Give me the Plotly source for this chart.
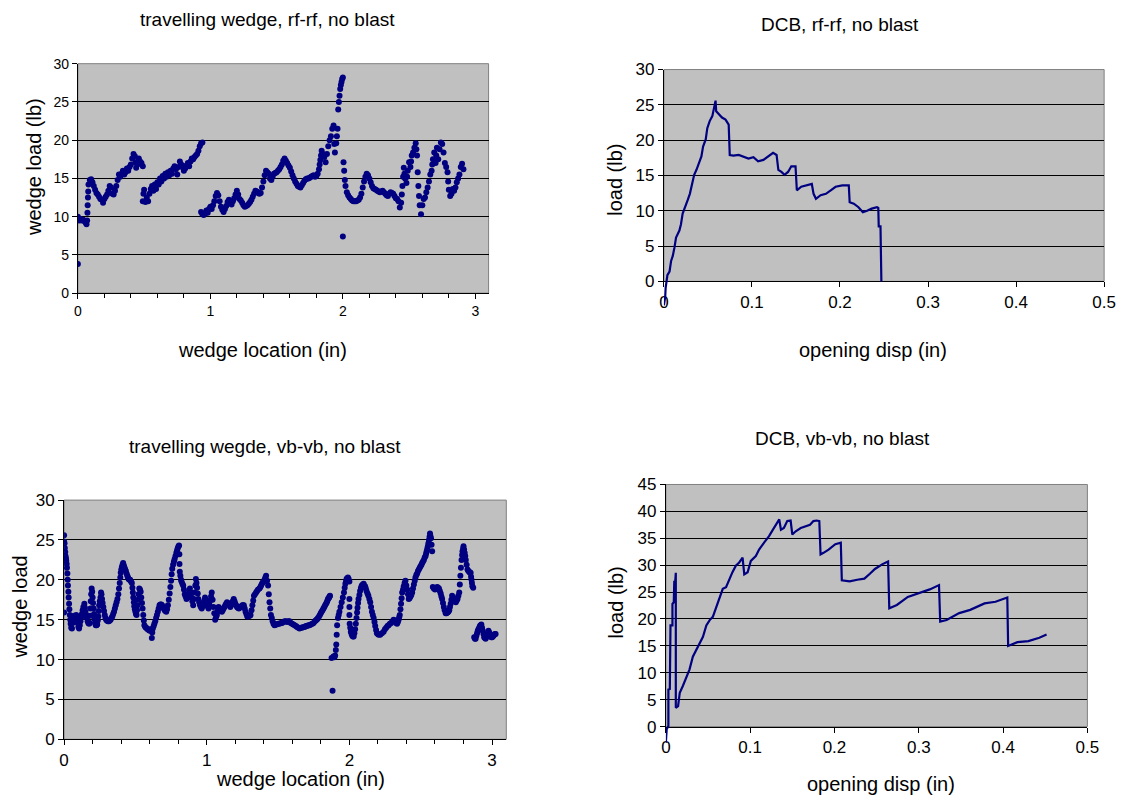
import plotly.graph_objects as go

# ---------------- data ----------------
# travelling wedge, rf-rf : (wedge location in, wedge load lb)
rf_wedge_seg_a = [(0.00,3.8),(0.00,10.0),(0.00,9.6),(0.01,9.5),(0.02,9.7),(0.03,9.5),(0.04,9.6),(0.05,9.4),(0.06,9.2),(0.065,9.0),
    (0.07,9.5),(0.072,10.5),(0.074,11.5),(0.076,12.5),(0.078,13.3),(0.08,14.2),(0.09,14.8),(0.10,14.9),(0.11,14.5),(0.12,14.0),
    (0.13,13.5),(0.14,13.1),(0.15,12.9),(0.16,12.6),(0.17,12.3),(0.18,12.2),(0.19,11.8),(0.20,12.3),(0.21,12.6),(0.22,12.9),
    (0.23,13.4),(0.24,14.0),(0.25,13.8),(0.26,13.0),(0.27,12.9),(0.28,13.4),(0.29,14.0),(0.30,14.8),(0.31,15.5),(0.32,15.2),
    (0.33,15.6),(0.34,16.0),(0.35,15.5),(0.36,15.8),(0.37,16.3),(0.38,16.0),(0.39,16.5),(0.40,16.8),(0.41,17.6),(0.42,18.2),
    (0.43,17.9),(0.435,17.1),(0.44,16.4),(0.45,16.8),(0.455,17.2),(0.46,17.6),(0.47,17.2),(0.48,17.0),(0.49,16.6)]
rf_wedge_seg_b = [(0.49,12.0),(0.495,13.0),(0.50,13.5),(0.51,11.9),(0.52,12.5),(0.53,12.0),(0.54,13.0),(0.55,13.6),(0.56,14.0),
    (0.57,13.4),(0.58,14.2),(0.59,13.6),(0.60,14.5),(0.61,14.2),(0.62,15.0),(0.63,14.6),(0.64,15.3),(0.65,15.0),(0.66,15.6),
    (0.67,15.2),(0.68,15.8),(0.69,15.4),(0.70,16.0),(0.71,15.6),(0.72,16.3),(0.73,16.6),(0.74,16.2),(0.75,15.5),(0.76,16.5),
    (0.77,17.2),(0.78,16.8),(0.79,16.5),(0.80,16.0),(0.81,16.3),(0.82,16.7),(0.83,17.0),(0.84,16.6),(0.85,17.2),(0.86,17.6),
    (0.87,17.5),(0.88,17.8),(0.89,18.0),(0.90,18.2),(0.91,18.6),(0.92,19.2),(0.93,19.6),(0.94,19.7)]
rf_wedge_seg_c = [(0.93,10.6),(0.94,10.3),(0.95,10.2),(0.96,10.4),(0.97,10.8),(0.98,10.5),(0.99,11.0),(1.00,11.3),(1.01,11.0),
    (1.02,11.5),(1.03,12.0),(1.04,12.7),(1.05,13.1),(1.06,12.8),(1.07,12.0),(1.08,11.3),(1.09,10.9),(1.10,10.6),(1.11,11.0),
    (1.12,11.4),(1.13,11.9),(1.14,12.2),(1.15,11.8),(1.16,11.6),(1.17,12.0),(1.18,12.4),(1.19,12.9),(1.20,13.4),(1.21,12.9),
    (1.22,12.3),(1.23,12.1),(1.24,11.8),(1.25,11.5),(1.26,11.3),(1.27,11.4),(1.28,11.5),(1.29,11.7),(1.30,11.9),(1.31,12.2),
    (1.32,12.6),(1.33,13.0),(1.34,13.4),(1.35,13.3),(1.36,13.2),(1.37,13.0),(1.38,13.1),(1.39,13.8),(1.40,14.6),(1.41,15.4),
    (1.42,16.0),(1.43,15.8),(1.44,15.6),(1.45,15.0),(1.46,14.8),(1.47,15.2),(1.48,15.6),(1.49,15.7),(1.50,15.8),(1.51,16.0),
    (1.52,16.2),(1.53,16.5),(1.54,16.8),(1.55,17.3),(1.56,17.6),(1.57,17.3),(1.58,17.0),(1.59,16.7),(1.60,16.4),(1.61,15.9),
    (1.62,15.4),(1.63,15.0),(1.64,14.6),(1.65,14.3),(1.66,14.0),(1.67,13.9),(1.68,13.8),(1.69,14.1),(1.70,14.4),(1.71,14.7),
    (1.72,14.9),(1.73,15.0),(1.74,15.0),(1.75,15.1),(1.76,15.2),(1.77,15.3),(1.78,15.4),(1.79,15.2),(1.80,15.3),(1.81,15.6),
    (1.82,16.2),(1.825,16.8),(1.83,17.4),(1.835,18.0),(1.84,18.6),(1.85,18.2),(1.86,17.8),(1.87,17.1),(1.88,18.2),(1.89,19.2),
    (1.90,20.0),(1.91,20.5),(1.92,21.5),(1.93,21.9),(1.935,19.5),(1.94,18.4),(1.95,19.6),(1.955,20.5),(1.96,21.5),(1.965,24.0),
    (1.97,25.0),(1.975,25.8),(1.98,26.7),(1.985,27.2),(1.99,27.6),(1.995,28.0),(2.00,28.2),(2.00,7.4)]
rf_wedge_seg_d = [(2.005,17.1),(2.01,16.0),(2.015,14.8),(2.02,14.0),(2.03,13.2),(2.04,12.8),(2.05,12.5),(2.06,12.3),(2.07,12.1),
    (2.08,12.0),(2.09,12.0),(2.10,12.0),(2.11,12.1),(2.12,12.2),(2.13,12.5),(2.14,13.0),(2.15,13.8),(2.16,14.6),(2.17,15.2),
    (2.18,15.6),(2.19,15.4),(2.20,15.0),(2.21,14.5),(2.22,14.0),(2.23,13.7),(2.24,13.6),(2.25,13.5),(2.26,13.4),(2.27,13.3),
    (2.28,13.2),(2.29,13.3),(2.30,13.4),(2.31,13.2),(2.32,13.0),(2.33,12.8),(2.34,12.7),(2.35,13.0),(2.36,13.2),(2.37,13.1),
    (2.38,13.0),(2.39,12.7),(2.40,12.4),(2.41,12.3),(2.42,12.0),(2.43,11.2),(2.44,11.8),(2.445,12.9),(2.45,14.0),(2.455,15.2),
    (2.46,16.4),(2.465,15.6),(2.47,15.0),(2.48,14.4),(2.485,15.2),(2.49,16.0),(2.50,17.1),(2.51,16.5),(2.515,17.2),(2.52,18.0),
    (2.53,18.4),(2.54,19.0),(2.55,19.6),(2.555,18.8),(2.56,18.0),(2.565,15.8),(2.57,14.0),(2.575,12.7),(2.58,11.5),(2.59,10.3),
    (2.60,11.5),(2.61,12.3),(2.62,12.5),(2.63,13.2),(2.64,13.8),(2.65,14.6),(2.66,15.5),(2.67,16.0),(2.675,16.8),(2.68,17.5),
    (2.69,18.4),(2.70,17.0),(2.705,18.0),(2.71,19.0),(2.72,17.5),(2.73,18.8),(2.74,19.7),(2.75,19.5),(2.76,18.4),(2.77,17.0),
    (2.78,16.5),(2.79,15.8),(2.795,14.6),(2.80,13.5),(2.81,12.7),(2.82,13.0),(2.83,13.6),(2.84,13.4),(2.85,13.8),(2.86,14.5),
    (2.87,15.0),(2.88,15.5),(2.89,16.5),(2.90,16.9),(2.91,16.2)]

# DCB, rf-rf : (opening disp in, load lb)
rf_dcb = [(0.0,-3.4),(0.0015,-2.2),(0.002,-0.9),(0.0026,0.0),(0.004,0.9),(0.0045,1.0),(0.006,1.4),(0.0064,1.4),(0.0082,2.9),
    (0.0101,3.6),(0.012,4.8),(0.0138,6.2),(0.0176,7.2),(0.0194,8.1),(0.0213,9.6),(0.0243,10.5),(0.027,11.5),(0.0295,12.4),
    (0.0318,13.9),(0.0344,15.1),(0.037,15.8),(0.04,16.7),(0.0426,17.7),(0.0445,19.1),(0.0475,20.1),(0.0493,21.7),(0.052,22.7),
    (0.055,23.4),(0.0568,24.4),(0.0587,25.6),(0.0594,24.1),(0.0624,23.7),(0.066,23.2),(0.07,22.9),(0.0736,22.2),(0.0748,17.9),
    (0.079,17.8),(0.085,17.9),(0.0905,17.7),(0.096,17.4),(0.1017,17.6),(0.107,17.0),(0.113,17.2),(0.1185,17.7),(0.124,18.2),
    (0.128,17.9),(0.13,15.8),(0.1335,15.5),(0.137,15.1),(0.141,15.5),(0.1447,16.3),(0.1495,16.3),(0.151,12.9),(0.156,13.4),
    (0.1615,13.6),(0.168,13.8),(0.17,12.4),(0.1727,11.7),(0.178,12.2),(0.184,12.4),(0.1895,12.9),(0.195,13.4),(0.2026,13.6),
    (0.21,13.6),(0.211,11.2),(0.2157,11.0),(0.221,10.5),(0.226,9.8),(0.2307,10.0),(0.236,10.3),(0.242,10.5),(0.2435,10.4),
    (0.244,7.8),(0.246,7.8),(0.247,0.0)]

# travelling wegde, vb-vb : (wedge location in, wedge load)
vb_wedge_seg_a = [(0.000,25.6),(0.000,24.8),(0.000,15.9),(0.003,24.6),(0.005,24.0),(0.008,23.5),(0.010,23.0),(0.013,22.7),
    (0.015,22.4),(0.018,22.0),(0.020,21.5),(0.023,20.8),(0.025,20.0),(0.027,19.3),(0.030,18.5),(0.032,17.8),(0.035,17.0),
    (0.037,16.3),(0.040,15.6),(0.043,15.0),(0.046,14.5),(0.050,14.0),(0.055,13.9),(0.060,14.6),(0.065,15.2),(0.070,15.5),
    (0.075,15.0),(0.080,15.3),(0.085,15.6),(0.090,15.2),(0.095,14.6),(0.100,14.1),(0.105,13.9),(0.110,14.3),(0.115,14.8),
    (0.120,15.3),(0.125,15.7),(0.130,16.2),(0.135,16.6),(0.142,17.0),(0.146,16.5),(0.150,16.0),(0.155,15.6),(0.160,15.2),
    (0.165,14.8),(0.170,14.6),(0.175,14.5),(0.180,14.6),(0.183,15.5),(0.185,16.4),(0.187,17.3),(0.190,18.2),(0.193,18.9),
    (0.197,18.5),(0.200,17.8),(0.203,17.1),(0.207,16.4),(0.210,15.7),(0.213,15.1),(0.217,14.6),(0.222,14.3),(0.228,14.3),
    (0.232,14.4),(0.236,14.9),(0.240,15.4),(0.243,16.1),(0.246,16.8),(0.250,17.3),(0.255,17.8),(0.259,18.4),(0.262,18.2),
    (0.266,17.6),(0.270,17.1),(0.275,16.6),(0.280,16.1),(0.285,15.6),(0.290,15.2),(0.295,15.0),(0.300,14.9),(0.307,14.8),
    (0.314,14.8),(0.320,14.9),(0.326,15.0),(0.332,15.2),(0.338,15.4),(0.344,15.7),(0.350,16.0),(0.356,16.4),(0.362,16.8),
    (0.368,17.2),(0.374,17.6),(0.380,18.2),(0.385,18.9),(0.390,19.6),(0.394,20.3),(0.397,20.9),(0.401,21.3),(0.405,21.6),
    (0.410,21.9),(0.414,22.1),(0.419,21.8),(0.424,21.5),(0.428,21.3),(0.433,21.1),(0.438,20.8),(0.443,20.5),(0.448,20.3),
    (0.452,20.1),(0.458,20.0),(0.463,20.0),(0.469,19.8),(0.475,19.6),(0.479,19.0),(0.482,18.4),(0.485,17.8),(0.489,17.2),
    (0.492,16.7),(0.496,16.3),(0.500,16.0),(0.504,15.7),(0.508,15.6),(0.511,16.2),(0.514,16.8),(0.518,17.5),(0.522,18.2),
    (0.527,18.9),(0.532,18.8),(0.537,18.5),(0.541,17.8),(0.546,17.1),(0.550,16.4),(0.555,15.6),(0.559,14.9),(0.563,14.3),
    (0.569,14.1),(0.575,14.0),(0.581,13.9),(0.586,13.8),(0.593,13.7),(0.600,13.6),(0.607,13.8),(0.615,12.7),(0.618,13.4),
    (0.622,13.9),(0.628,14.2),(0.633,14.5),(0.639,14.8),(0.645,15.2),(0.651,15.6),(0.657,16.0),(0.663,16.4),(0.669,16.8),
    (0.675,16.9),(0.681,16.9),(0.687,16.8),(0.693,16.6),(0.699,16.4),(0.705,16.2),(0.711,16.1),(0.716,16.0),(0.722,16.3),
    (0.728,16.8),(0.734,17.5),(0.740,18.3),(0.745,19.1),(0.750,19.9),(0.754,20.7),(0.758,21.4),(0.764,21.9),(0.770,22.3),
    (0.775,22.6),(0.781,23.0),(0.787,23.4),(0.792,23.7),(0.797,24.0),(0.802,24.2),(0.806,24.3),(0.808,23.2),(0.809,22.0),
    (0.811,21.0),(0.815,20.5),(0.820,20.0),(0.823,19.8),(0.829,19.5),(0.835,19.3),(0.840,18.8),(0.846,18.2),(0.852,17.9),
    (0.858,17.6),(0.864,17.8),(0.870,18.1),(0.876,18.5),(0.882,18.9),(0.888,18.4),(0.893,17.8),(0.899,17.3),(0.905,16.8),
    (0.910,17.6),(0.915,18.4),(0.920,19.3),(0.924,20.1),(0.928,19.6),(0.932,19.0),(0.937,18.3),(0.941,17.6),(0.947,17.2),
    (0.953,16.8),(0.959,16.6),(0.965,16.4),(0.971,16.7),(0.977,17.0),(0.983,17.4),(0.988,17.8),(0.994,17.4),(1.000,17.0),
    (1.006,16.7),(1.012,16.4),(1.018,16.9),(1.024,17.4),(1.030,17.9),(1.035,18.4),(1.041,17.5),(1.047,16.6),(1.053,15.8),
    (1.059,15.0),(1.065,15.3),(1.071,15.6),(1.077,16.1),(1.083,16.6),(1.089,16.4),(1.095,16.3),(1.101,16.1),(1.106,16.0),
    (1.112,16.2),(1.118,16.4),(1.124,16.6),(1.130,16.8),(1.136,17.0),(1.142,17.2),(1.148,17.1),(1.154,17.0),(1.160,16.8),
    (1.165,16.6),(1.171,16.8),(1.177,17.0),(1.183,17.3),(1.189,17.6),(1.195,17.3),(1.200,17.0),(1.206,16.8),(1.212,16.6),
    (1.218,16.5),(1.225,16.4),(1.231,16.5),(1.237,16.6),(1.243,16.7),(1.250,16.8),(1.255,16.8),(1.260,16.8),(1.266,16.4),
    (1.272,16.0),(1.278,15.7),(1.284,15.4),(1.290,15.4),(1.296,15.5),(1.302,15.5),(1.307,15.6),(1.314,16.2),(1.320,16.8),
    (1.326,17.4),(1.331,18.0),(1.338,18.2),(1.346,18.4),(1.353,18.6),(1.360,18.8),(1.370,18.9),(1.376,19.1),(1.381,19.3),
    (1.387,19.5),(1.393,19.7),(1.399,19.8),(1.405,20.0),(1.411,20.3),(1.416,20.5),(1.423,19.9),(1.430,19.3),(1.435,18.2),
    (1.440,17.2),(1.445,16.4),(1.450,15.6),(1.456,15.2),(1.462,14.8),(1.468,14.5),(1.475,14.3)]
vb_wedge_seg_b = [(1.483,14.4),(1.490,14.4),(1.500,14.5),(1.510,14.5),(1.519,14.6),(1.528,14.6),(1.537,14.7),(1.546,14.8),
    (1.555,14.8),(1.563,14.7),(1.572,14.8),(1.580,14.8),(1.589,14.6),(1.598,14.5),(1.607,14.4),(1.616,14.3),(1.625,14.2),
    (1.633,14.1),(1.642,14.0),(1.650,13.9),(1.659,14.0),(1.668,14.0),(1.677,14.1),(1.687,14.1),(1.695,14.2),(1.703,14.2),
    (1.712,14.3),(1.720,14.3),(1.730,14.4),(1.740,14.5),(1.749,14.6),(1.758,14.8),(1.764,14.9),(1.770,15.0),(1.775,15.1),
    (1.780,15.2),(1.787,15.4),(1.793,15.6),(1.799,15.8),(1.805,16.0),(1.812,16.2),(1.818,16.4),(1.824,16.6),(1.830,16.8),
    (1.836,17.0),(1.842,17.2),(1.846,17.4),(1.850,17.6),(1.854,17.7),(1.858,17.8),(1.861,17.9),(1.864,18.0),
    (1.875,10.2),(1.882,6.1),(1.888,10.4),(1.895,10.3),(1.900,10.5),(1.905,11.2),(1.908,11.9),(1.911,13.1),(1.914,14.3),
    (1.920,15.2),(1.925,15.6),(1.930,16.0),(1.938,16.6),(1.946,17.2),(1.954,17.8),(1.962,18.4),(1.967,19.0),(1.972,19.5),
    (1.976,19.8),(1.980,20.1),(1.985,20.2),(1.990,20.3),(1.995,20.1),(2.000,19.8),(2.000,17.6),(2.000,16.6),(2.000,15.6),
    (2.002,14.5),(2.006,14.0),(2.010,13.5),(2.015,13.2),(2.020,13.0),(2.025,12.9),(2.030,12.9),(2.035,13.3),(2.040,13.8),
    (2.045,14.5),(2.050,15.2),(2.054,15.9),(2.057,16.5),(2.061,17.1),(2.064,17.6),(2.070,18.1),(2.075,18.6),(2.081,19.0),
    (2.087,19.3),(2.094,19.4),(2.100,19.5),(2.110,19.2),(2.115,18.9),(2.120,18.6),(2.127,18.3),(2.133,18.0),(2.140,17.6),
    (2.146,17.2),(2.152,16.6),(2.158,16.0),(2.164,15.6),(2.170,15.2),(2.176,14.7),(2.181,14.2),(2.187,13.7),(2.193,13.3),
    (2.199,13.2),(2.205,13.1),(2.216,13.1),(2.228,13.3),(2.240,13.5),(2.249,13.8),(2.258,14.0),(2.267,14.2),(2.275,14.3),
    (2.284,14.5),(2.293,14.6),(2.302,14.8),(2.310,15.0),(2.316,14.9),(2.322,14.8),(2.328,14.6),(2.334,14.5),(2.340,14.7),
    (2.345,15.0),(2.349,15.3),(2.353,15.6),(2.358,16.3),(2.362,17.0),(2.366,17.7),(2.370,18.4),(2.376,18.8),(2.381,19.2),
    (2.387,19.6),(2.393,19.9),(2.399,19.3),(2.405,18.8),(2.411,18.2),(2.416,17.6),(2.422,17.7),(2.428,17.9),(2.434,18.1),
    (2.440,18.4),(2.446,18.9),(2.452,19.4),(2.458,19.9),(2.463,20.3),(2.469,20.6),(2.475,20.8),(2.481,21.1),(2.487,21.3),
    (2.493,21.5),(2.499,21.7),(2.505,21.9),(2.510,22.1),(2.516,22.3),(2.522,22.5),(2.528,22.8),(2.534,23.0),(2.538,23.3),
    (2.542,23.6),(2.546,23.9),(2.550,24.2),(2.554,24.6),(2.558,25.0),(2.562,25.4),(2.565,25.8),(2.568,25.5),(2.572,25.2),
    (2.576,24.4),(2.580,23.6),(2.585,19.1),(2.592,18.9),(2.600,18.8),(2.608,19.0),(2.616,19.1),(2.622,19.0),(2.628,18.9),
    (2.634,18.6),(2.640,18.3),(2.645,17.9),(2.650,17.6),(2.656,17.1),(2.662,16.6),(2.668,16.2),(2.675,15.8),(2.681,15.8),
    (2.688,15.9),(2.694,16.0),(2.700,16.2),(2.705,16.6),(2.710,17.0),(2.715,17.5),(2.720,18.0),(2.727,17.8),(2.733,17.6),
    (2.740,17.4),(2.746,17.2),(2.752,17.4),(2.758,17.6),(2.764,18.0),(2.770,18.4),(2.774,19.4),(2.778,20.5),(2.782,21.5),
    (2.786,22.5),(2.790,23.1),(2.793,23.6),(2.797,23.9),(2.800,24.2),(2.804,23.8),(2.808,23.4),(2.812,23.0),(2.816,22.5),
    (2.822,21.9),(2.828,21.3),(2.834,21.1),(2.840,21.0),(2.845,20.9),(2.850,20.9),(2.853,20.4),(2.856,20.0),(2.859,19.6),
    (2.862,19.2),(2.868,19.0),(2.875,12.8),(2.880,12.6),(2.885,12.6),(2.890,13.0),(2.895,13.3),(2.900,13.6),(2.905,13.8),
    (2.910,14.0),(2.915,14.2),(2.920,14.3),(2.925,14.4),(2.930,14.0),(2.935,13.6),(2.940,13.2),(2.945,12.8),(2.950,12.7),
    (2.955,12.6),(2.960,12.8),(2.965,13.0),(2.970,13.3),(2.975,13.6),(2.980,13.4),(2.985,13.2),(2.990,13.0),(2.995,12.8),
    (3.000,12.8),(3.005,12.9),(3.010,13.0),(3.015,13.1),(3.020,13.2),(3.025,13.2)]

# DCB, vb-vb : (opening disp in, load lb)
vb_dcb = [(0.0,-3.0),(0.001,-0.5),(0.003,0.1),(0.003,6.9),(0.0047,7.0),(0.0055,18.8),(0.0078,18.8),(0.0078,22.8),(0.0094,23.1),
    (0.010,27.1),(0.0106,25.9),(0.0118,28.6),(0.0118,3.5),(0.0145,3.8),(0.0165,6.3),(0.02,7.5),(0.0243,9.3),(0.028,10.6),
    (0.032,13.0),(0.036,14.2),(0.04,15.5),(0.044,16.7),(0.048,18.8),(0.052,19.8),(0.0557,20.4),(0.0596,22.2),(0.0635,24.0),
    (0.0675,25.6),(0.0714,25.9),(0.075,27.4),(0.079,28.7),(0.083,29.9),(0.087,30.5),(0.091,31.4),(0.093,28.3),(0.097,28.7),
    (0.1008,30.8),(0.1067,31.7),(0.1106,32.9),(0.1165,34.2),(0.1224,35.4),(0.127,36.6),(0.132,37.9),(0.1345,38.5),(0.1365,36.6),
    (0.14,36.9),(0.144,38.2),(0.148,38.3),(0.15,35.7),(0.154,36.3),(0.16,36.9),(0.1655,37.2),(0.171,37.5),(0.175,38.2),
    (0.179,38.3),(0.182,38.2),(0.1835,32.0),(0.187,32.3),(0.193,32.9),(0.201,33.9),(0.2075,34.2),(0.2087,27.2),(0.218,27.0),
    (0.227,27.3),(0.2355,27.5),(0.242,28.4),(0.248,29.3),(0.257,30.2),(0.2636,30.7),(0.265,22.0),(0.274,22.6),(0.287,24.1),
    (0.30,24.8),(0.313,25.5),(0.324,26.3),(0.3254,19.5),(0.333,19.8),(0.348,21.1),(0.361,21.7),(0.378,22.9),(0.391,23.2),
    (0.405,24.0),(0.406,15.0),(0.417,15.7),(0.43,15.9),(0.443,16.5),(0.4516,17.1)]

titles = ["travelling wedge, rf-rf, no blast", "DCB, rf-rf, no blast",
          "travelling wegde, vb-vb, no blast", "DCB, vb-vb, no blast"]
x_titles = ["wedge location (in)", "opening disp (in)", "wedge location (in)", "opening disp (in)"]
y_titles = ["wedge load (lb)", "load (lb)", "wedge load", "load (lb)"]

# ---------------- figure ----------------
W, H = 1125, 803
NAVY = "#000080"
BG = "#C0C0C0"
FONT = "Liberation Sans, Arial, sans-serif"

def px_x(p):
    return p / W

def px_y(p):
    return 1 - p / H

# plot-area pixel boxes (left, right, top, bottom)
boxes = [(74, 491, 56, 291), (669, 1116, 62, 279), (60, 509, 503, 748), (671, 1099, 487, 735)]
xranges = [[0, 3.1], [0, 0.5], [0, 3.1], [0, 0.5]]
yranges = [[0, 30], [0, 30], [0, 30], [0, 45]]
xdticks = [1, 0.1, 1, 0.1]
tick_sizes = [14, 17, 17, 17]
EXT = 30  # px the DCB curves may run below their x axis (as in the original)

fig = go.Figure()
rf_w = rf_wedge_seg_a + rf_wedge_seg_b + rf_wedge_seg_c + rf_wedge_seg_d
vb_w = vb_wedge_seg_a + vb_wedge_seg_b

fig.add_trace(go.Scatter(x=[p[0] for p in rf_w], y=[p[1] for p in rf_w], mode="markers",
                         marker=dict(color=NAVY, size=6, line=dict(width=0)), xaxis="x", yaxis="y"))
fig.add_trace(go.Scatter(x=[p[0] for p in vb_w], y=[p[1] for p in vb_w], mode="markers",
                         marker=dict(color=NAVY, size=6, line=dict(width=0)), xaxis="x3", yaxis="y3"))
fig.add_trace(go.Scatter(x=[p[0] for p in rf_dcb], y=[p[1] for p in rf_dcb], mode="lines",
                         line=dict(color=NAVY, width=2.2), xaxis="x5", yaxis="y5"))
fig.add_trace(go.Scatter(x=[p[0] for p in vb_dcb], y=[p[1] for p in vb_dcb], mode="lines",
                         line=dict(color=NAVY, width=2.2), xaxis="x6", yaxis="y6"))

layout = dict(width=W, height=H, margin=dict(l=0, r=0, t=0, b=0),
              paper_bgcolor="white", plot_bgcolor="rgba(0,0,0,0)",
              font=dict(family=FONT, color="black"), showlegend=False)
shapes = []
for i, (l, r, t, b) in enumerate(boxes):
    sx = "" if i == 0 else str(i + 1)
    xa = dict(domain=[px_x(l), px_x(r)], range=xranges[i], anchor="y" + sx,
              showgrid=False, zeroline=False, showline=True, linecolor="black", linewidth=1,
              ticks="outside", ticklen=5, tickcolor="black", tickwidth=1,
              tickmode="linear", tick0=0, dtick=xdticks[i],
              tickfont=dict(size=tick_sizes[i], family=FONT, color="black"))
    if xdticks[i] == 1:
        xa["minor"] = dict(dtick=0.2, tick0=0, ticks="outside", ticklen=4, tickcolor="black", showgrid=False)
    ya = dict(domain=[px_y(b), px_y(t)], range=yranges[i], anchor="x" + sx,
              showgrid=True, gridcolor="black", gridwidth=1, zeroline=False,
              showline=True, linecolor="black", linewidth=1,
              ticks="outside", ticklen=5, tickcolor="black", tickwidth=1,
              tickmode="linear", tick0=0, dtick=5,
              tickfont=dict(size=tick_sizes[i], family=FONT, color="black"))
    layout["xaxis" + sx] = xa
    layout["yaxis" + sx] = ya
    shapes.append(dict(type="rect", xref="x" + sx + " domain", yref="y" + sx + " domain",
                       x0=0, x1=1, y0=0, y1=1, fillcolor=BG,
                       line=dict(color="#808080", width=1), layer="below"))

# hidden companion axes for the DCB curves, same scale, extended a little below the x axis
for j, i in ((5, 1), (6, 3)):
    l, r, t, b = boxes[i]
    y0, y1 = yranges[i]
    scale = (b - t) / (y1 - y0)
    layout["xaxis%d" % j] = dict(domain=[px_x(l), px_x(r)], range=xranges[i], anchor="y%d" % j,
                                 visible=False, showgrid=False, zeroline=False)
    layout["yaxis%d" % j] = dict(domain=[px_y(b + EXT), px_y(t)], range=[y0 - EXT / scale, y1],
                                 anchor="x%d" % j, visible=False, showgrid=False, zeroline=False)

# annotation positions: title centre (data x, px y), x-title (data x, px y), y-title (px offset, px y)
title_pos = [(1.434, 11), (0.200, 16), (1.41, 448), (0.210, 440)]
xtitle_pos = [(1.39, 349), (0.237, 349), (1.66, 789), (0.255, 794)]
ytitle_pos = [(-44, 162), (-49, 175), (-44, 613), (-50, 608)]

annotations = []
for i in range(4):
    sx = "" if i == 0 else str(i + 1)
    annotations.append(dict(text=titles[i], xref="x" + sx, yref="paper",
                            x=title_pos[i][0], y=px_y(title_pos[i][1]),
                            xanchor="center", yanchor="middle", showarrow=False,
                            font=dict(size=19, family=FONT, color="black")))
    annotations.append(dict(text=x_titles[i], xref="x" + sx, yref="paper",
                            x=xtitle_pos[i][0], y=px_y(xtitle_pos[i][1]),
                            xanchor="center", yanchor="middle", showarrow=False,
                            font=dict(size=20, family=FONT, color="black")))
    annotations.append(dict(text=y_titles[i], xref="x" + sx + " domain", yref="paper",
                            x=0, xshift=ytitle_pos[i][0], y=px_y(ytitle_pos[i][1]),
                            xanchor="center", yanchor="middle", textangle=-90, showarrow=False,
                            font=dict(size=20, family=FONT, color="black")))

layout["shapes"] = shapes
layout["annotations"] = annotations
fig.update_layout(**layout)

fig.write_html("out.html")
